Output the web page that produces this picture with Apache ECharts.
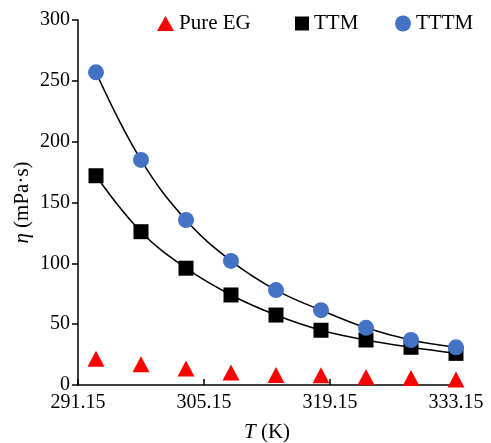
<!DOCTYPE html>
<html>
<head>
<meta charset="utf-8">
<script src="https://cdn.jsdelivr.net/npm/echarts@6/dist/echarts.min.js"></script>
<style>html,body{margin:0;padding:0;background:#fff}#main{width:491px;height:443px}</style>
</head>
<body>
<div id="main"></div>
<script>
// 温度 (K)
var temps = [293.15, 298.15, 303.15, 308.15, 313.15, 318.15, 323.15, 328.15, 333.15];
var pureEG = [21.5, 17, 13.6, 10.3, 8.3, 8, 6.6, 5.8, 4.5];
var ttm = [172, 126, 96, 74, 57.5, 45, 37, 31, 26];
var tttm = [257, 185, 135.6, 102, 78, 61.5, 47, 37, 31];
var xTicks = [291.15, 305.15, 319.15, 333.15];

function pairs(ys){
	var out = [];
	for (var i = 0; i < temps.length; i++) out.push([temps[i], ys[i]]);
	return out;
}

var chart = echarts.init(document.getElementById('main'));
var font = 'Liberation Serif';

// 图例: 每项单独定位
function legendItem(name, icon, left, w, h){
	return {
		top: 8, left: left,
		itemWidth: w, itemHeight: h,
		itemStyle: { opacity: 1 },
		textStyle: { fontFamily: font, fontSize: 21, color: '#000' },
		data: [{ name: name, icon: icon }]
	};
}

option = {
	animation: false,
	textStyle: { fontFamily: font },
	grid: { left: 78, right: 35, top: 20, bottom: 58, outerBoundsMode: 'none', containLabel: false },
	legend: [
		legendItem('Pure EG', 'triangle', 152, 17, 15),
		legendItem('TTM', 'rect', 290, 14, 14),
		legendItem('TTTM', 'circle', 390, 16, 16)
	],
	xAxis: {
		type: 'value',
		min: 291.15,
		max: 333.15,
		name: '{i|T} (K)',
		nameLocation: 'middle',
		nameGap: 37,
		nameMoveOverlap: false,
		nameTextStyle: {
			fontFamily: font, fontSize: 21, color: '#000',
			rich: { i: { fontFamily: font, fontSize: 21, fontStyle: 'italic', color: '#000' } }
		},
		splitLine: { show: false },
		axisLine: { lineStyle: { color: '#000', width: 1.5 } },
		axisTick: { inside: true, length: 6, customValues: xTicks, lineStyle: { color: '#000', width: 1.5 } },
		axisLabel: { customValues: xTicks, margin: 8, fontFamily: font, fontSize: 20, color: '#000',
			formatter: function (v) { return v.toFixed(2); } }
	},
	yAxis: {
		type: 'value',
		min: 0,
		max: 300,
		interval: 50,
		name: '{i|η} (mPa·s)',
		nameLocation: 'middle',
		nameGap: 45,
		nameMoveOverlap: false,
		nameTextStyle: {
			fontFamily: font, fontSize: 21, color: '#000',
			rich: { i: { fontFamily: font, fontSize: 21, fontStyle: 'italic', color: '#000' } }
		},
		splitLine: { show: false },
		axisLine: { show: true, lineStyle: { color: '#000', width: 1.5 } },
		axisTick: { show: true, length: 6, lineStyle: { color: '#000', width: 1.5 } },
		axisLabel: { margin: 8, fontFamily: font, fontSize: 20, color: '#000' }
	},
	series: [
		{ name: 'TTM fit', type: 'line', data: pairs(ttm), smooth: 0.4, showSymbol: false, silent: true,
		  lineStyle: { color: '#000', width: 1.5 }, z: 1 },
		{ name: 'TTTM fit', type: 'line', data: pairs(tttm), smooth: 0.4, showSymbol: false, silent: true,
		  lineStyle: { color: '#000', width: 1.5 }, z: 1 },
		{ name: 'Pure EG', type: 'scatter', data: pairs(pureEG), symbol: 'triangle', symbolSize: [17, 16],
		  itemStyle: { color: '#ff0000', opacity: 1 }, z: 3 },
		{ name: 'TTM', type: 'scatter', data: pairs(ttm), symbol: 'rect', symbolSize: 15,
		  itemStyle: { color: '#000', opacity: 1 }, z: 3 },
		{ name: 'TTTM', type: 'scatter', data: pairs(tttm), symbol: 'circle', symbolSize: 16,
		  itemStyle: { color: '#4472c4', opacity: 1 }, z: 4 }
	]
};
chart.setOption(option);
</script>
</body>
</html>
